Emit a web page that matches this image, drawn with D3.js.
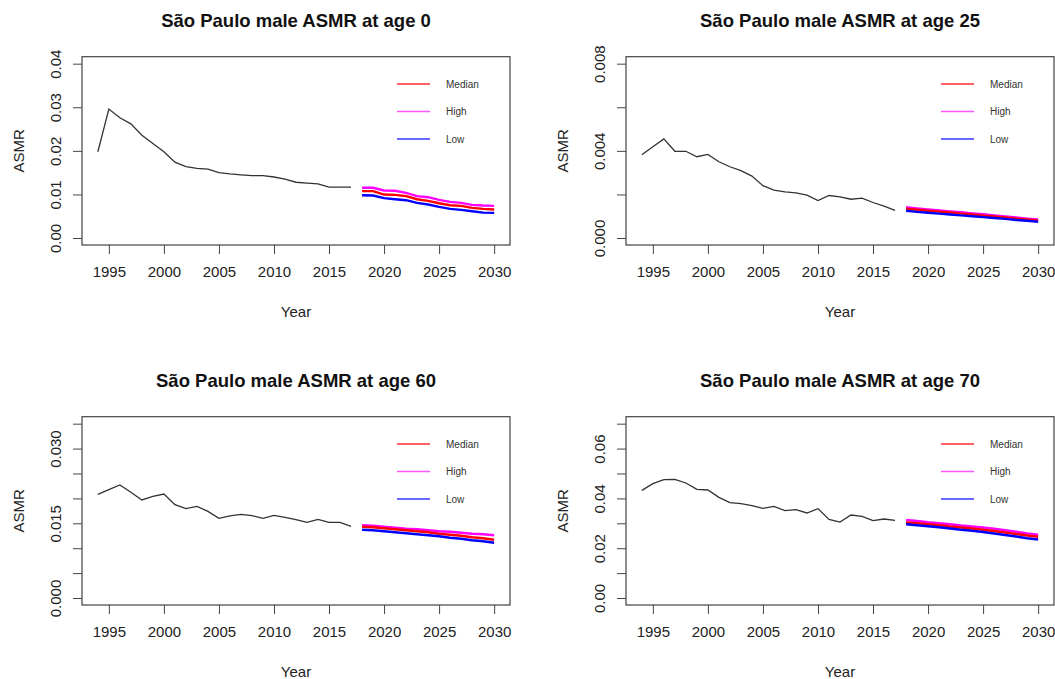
<!DOCTYPE html>
<html>
<head>
<meta charset="utf-8">
<script src="https://cdn.jsdelivr.net/npm/d3@7"></script>
<style>
  body { margin: 0; background: #fff; }
  svg { display: block; font-family: "Liberation Sans", Arial, sans-serif; }
</style>
</head>
<body>
<svg id="chart" width="1055" height="679"></svg>
<script>
// years
const histYears = d3.range(1994, 2018);
const fcYears = d3.range(2018, 2031);
const xTicks = [1995, 2000, 2005, 2010, 2015, 2020, 2025, 2030];

// age 0
const age0Hist = [0.0198, 0.0296, 0.0276, 0.0262, 0.0236, 0.0217, 0.0198, 0.0174, 0.0164, 0.0160,
  0.0158, 0.0150, 0.0147, 0.0145, 0.0143, 0.0143, 0.0140, 0.0135, 0.0128, 0.0126, 0.0124, 0.0117, 0.0117, 0.0117];
const age0High = [0.01152, 0.01152, 0.0109, 0.01083, 0.01036, 0.0096, 0.00937, 0.00875, 0.00829, 0.00806, 0.0076, 0.00745, 0.00737];
const age0Median = [0.01075, 0.01075, 0.00998, 0.0099, 0.0096, 0.0089, 0.00852, 0.00798, 0.00752, 0.00737, 0.00691, 0.00668, 0.00653];
const age0Low = [0.00983, 0.00975, 0.00914, 0.0089, 0.00868, 0.00806, 0.00768, 0.00714, 0.00668, 0.00645, 0.00614, 0.00583, 0.00576];

// age 25
const age25Hist = [0.00382, 0.00419, 0.00455, 0.00398, 0.00398, 0.00373, 0.00384, 0.00350, 0.00327, 0.00309,
  0.00284, 0.00240, 0.00220, 0.00212, 0.00207, 0.00197, 0.00172, 0.00195, 0.00189, 0.00178, 0.00183, 0.00163, 0.00146, 0.00127];
const age25High = [0.00141, 0.00136, 0.00131, 0.00127, 0.00122, 0.00118, 0.00113, 0.00109, 0.00104, 0.00099, 0.00094, 0.00089, 0.00085];
const age25Median = [0.00135, 0.00130, 0.00125, 0.00121, 0.00117, 0.00112, 0.00108, 0.00103, 0.00099, 0.00094, 0.00089, 0.00085, 0.00080];
const age25Low = [0.00125, 0.00120, 0.00116, 0.00112, 0.00108, 0.00104, 0.00100, 0.00096, 0.00092, 0.00088, 0.00083, 0.00079, 0.00075];

// age 60
const age60Hist = [0.02082, 0.02175, 0.02269, 0.02122, 0.01968, 0.02041, 0.02088, 0.01874, 0.01794, 0.01841,
  0.01740, 0.01600, 0.01647, 0.01680, 0.01653, 0.01600, 0.01660, 0.01620, 0.01573, 0.01519, 0.01580, 0.01519, 0.01519, 0.01439];
const age60High = [0.0146, 0.0145, 0.0143, 0.0141, 0.0139, 0.0138, 0.0136, 0.0134, 0.0133, 0.0131, 0.0129, 0.0128, 0.0126];
const age60Median = [0.0143, 0.0142, 0.0140, 0.0138, 0.0136, 0.0134, 0.0132, 0.0129, 0.0127, 0.0125, 0.0122, 0.0120, 0.0117];
const age60Low = [0.0137, 0.0136, 0.0134, 0.0132, 0.0130, 0.0128, 0.0126, 0.0124, 0.0121, 0.0119, 0.0116, 0.0114, 0.0111];

// age 70
const age70Hist = [0.04324, 0.04592, 0.04752, 0.04766, 0.04618, 0.04364, 0.04337, 0.04043, 0.03829, 0.03788,
  0.03708, 0.03601, 0.03681, 0.03507, 0.03548, 0.03414, 0.03588, 0.03159, 0.03052, 0.03333, 0.03280, 0.03106, 0.03173, 0.03119];
const age70High = [0.0313, 0.0309, 0.0304, 0.0300, 0.0296, 0.0291, 0.0287, 0.0283, 0.0278, 0.0272, 0.0266, 0.0259, 0.0254];
const age70Median = [0.0303, 0.0300, 0.0296, 0.0292, 0.0287, 0.0283, 0.0279, 0.0274, 0.0269, 0.0263, 0.0257, 0.0251, 0.0246];
const age70Low = [0.0296, 0.0292, 0.0288, 0.0284, 0.0279, 0.0274, 0.0270, 0.0265, 0.0259, 0.0253, 0.0247, 0.0240, 0.0235];

// y ticks and which of them carry a label
const age0Ticks = [0, 0.01, 0.02, 0.03, 0.04];
const age0Labels = ['0.00', '0.01', '0.02', '0.03', '0.04'];
const age25Ticks = [0, 0.002, 0.004, 0.006, 0.008];
const age25Labels = ['0.000', '', '0.004', '', '0.008'];
const age60Ticks = [0, 0.005, 0.01, 0.015, 0.02, 0.025, 0.03, 0.035];
const age60Labels = ['0.000', '', '', '0.015', '', '', '0.030', ''];
const age70Ticks = [0, 0.01, 0.02, 0.03, 0.04, 0.05, 0.06, 0.07];
const age70Labels = ['0.00', '', '0.02', '', '0.04', '', '0.06', ''];

const legendNames = ['Median', 'High', 'Low'];

const panels = [
  { age: 0, ox: 0, oy: 0, hist: age0Hist, high: age0High, median: age0Median, low: age0Low, ticks: age0Ticks, labels: age0Labels },
  { age: 25, ox: 544, oy: 0, hist: age25Hist, high: age25High, median: age25Median, low: age25Low, ticks: age25Ticks, labels: age25Labels },
  { age: 60, ox: 0, oy: 360, hist: age60Hist, high: age60High, median: age60Median, low: age60Low, ticks: age60Ticks, labels: age60Labels },
  { age: 70, ox: 544, oy: 360, hist: age70Hist, high: age70High, median: age70Median, low: age70Low, ticks: age70Ticks, labels: age70Labels }
];

const svg = d3.select('#chart');

// plot box inside each panel
const box = { left: 82, right: 510, top: 56.7, bottom: 245 };
const tickLen = 9;

panels.forEach(p => {
  const g = svg.append('g').attr('transform', `translate(${p.ox},${p.oy})`);

  // R style: 4% padding on both axes
  const xPad = (2030 - 1994) * 0.04;
  const x = d3.scaleLinear().domain([1994 - xPad, 2030 + xPad]).range([box.left, box.right]);
  const yMax = p.ticks[p.ticks.length - 1];
  const y = d3.scaleLinear().domain([-yMax * 0.04, yMax * 1.04]).range([box.bottom, box.top]);

  // x axis
  const xAxis = g.append('g')
    .attr('transform', `translate(0,${box.bottom})`)
    .call(d3.axisBottom(x).tickValues(xTicks).tickSize(tickLen).tickPadding(12).tickFormat(d3.format('d')));
  xAxis.select('.domain').remove();
  xAxis.selectAll('line').attr('stroke', '#444');
  xAxis.selectAll('text').attr('font-size', 15).attr('fill', '#222').attr('font-family', 'Liberation Sans, Arial, sans-serif');

  // y axis, labels rotated
  const yAxis = g.append('g')
    .attr('transform', `translate(${box.left},0)`)
    .call(d3.axisLeft(y).tickValues(p.ticks).tickSize(tickLen).tickFormat((d, i) => p.labels[i]));
  yAxis.select('.domain').remove();
  yAxis.selectAll('line').attr('stroke', '#444');
  yAxis.selectAll('text')
    .attr('font-size', 15).attr('fill', '#222').attr('font-family', 'Liberation Sans, Arial, sans-serif')
    .attr('x', null).attr('dy', null)
    .attr('text-anchor', 'middle')
    .attr('transform', 'translate(-21,0) rotate(-90)');

  // box
  g.append('rect')
    .attr('x', box.left).attr('y', box.top)
    .attr('width', box.right - box.left).attr('height', box.bottom - box.top)
    .attr('fill', 'none').attr('stroke', '#444').attr('stroke-width', 1.2);

  // historical line
  const line = d3.line().x(d => x(d[0])).y(d => y(d[1]));
  g.append('path')
    .datum(histYears.map((yr, i) => [yr, p.hist[i]]))
    .attr('d', line).attr('fill', 'none').attr('stroke', '#333').attr('stroke-width', 1.3);

  // forecasts
  [[p.high, '#ff00ff'], [p.median, '#ff0000'], [p.low, '#0000ff']].forEach(([vals, col]) => {
    g.append('path')
      .datum(fcYears.map((yr, i) => [yr, vals[i]]))
      .attr('d', line).attr('fill', 'none').attr('stroke', col).attr('stroke-width', 2.4);
  });

  // legend
  const legendCols = ['#ff3030', '#ff55ff', '#6868ff'];
  legendNames.forEach((name, i) => {
    const ly = 84 + i * 27.5;
    g.append('line')
      .attr('x1', box.left + 315).attr('x2', box.left + 348)
      .attr('y1', ly).attr('y2', ly)
      .attr('stroke', legendCols[i]).attr('stroke-width', i === 2 ? 2 : 1.5);
    g.append('text')
      .attr('x', box.left + 364).attr('y', ly + 3.5)
      .attr('font-size', 10).attr('fill', '#333')
      .text(name);
  });

  // title
  g.append('text')
    .attr('x', (box.left + box.right) / 2).attr('y', 27)
    .attr('text-anchor', 'middle')
    .attr('font-size', 18.5).attr('font-weight', 'bold').attr('fill', '#111')
    .text(`São Paulo male ASMR at age ${p.age}`);

  // axis titles
  g.append('text')
    .attr('x', (box.left + box.right) / 2).attr('y', 317)
    .attr('text-anchor', 'middle')
    .attr('font-size', 15).attr('fill', '#222')
    .text('Year');
  g.append('text')
    .attr('transform', `translate(24,${(box.top + box.bottom) / 2}) rotate(-90)`)
    .attr('text-anchor', 'middle')
    .attr('font-size', 15).attr('fill', '#222')
    .text('ASMR');
});
</script>
</body>
</html>
